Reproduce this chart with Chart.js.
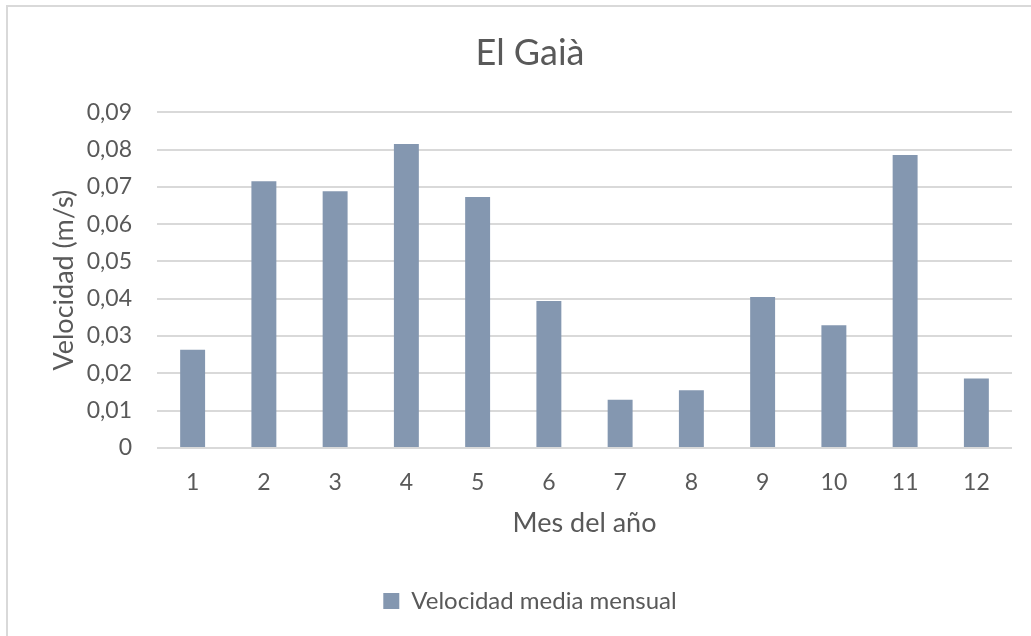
<!DOCTYPE html>
<html>
<head>
<meta charset="utf-8">
<script src="https://cdn.jsdelivr.net/npm/chart.js@4.4.0/dist/chart.umd.min.js"></script>
<style>
  html, body { margin: 0; padding: 0; background: #fff; overflow: hidden; }
  .frame {
    position: absolute; left: 6px; top: 5px; width: 2000px; height: 2000px;
    border-left: 2px solid #d9d9d9; border-top: 2px solid #d9d9d9;
  }
  .wrap { position: absolute; left: 0; top: 0; width: 1031px; height: 636px; }
</style>
</head>
<body>
<div class="frame"></div>
<div class="wrap"><canvas id="velChart"></canvas></div>
<script>
const months = ['1', '2', '3', '4', '5', '6', '7', '8', '9', '10', '11', '12'];
const velocidad = [0.0263, 0.0715, 0.0688, 0.0815, 0.0673, 0.0394, 0.0129, 0.0155, 0.0405, 0.0329, 0.0785, 0.0186];
const yTickLabels = ['0', '0,01', '0,02', '0,03', '0,04', '0,05', '0,06', '0,07', '0,08', '0,09'];

const textGrey = '#595959';
const fontFamily = "Lato, 'Open Sans', sans-serif";

document.addEventListener("DOMContentLoaded", function() {
    const ctx = document.getElementById('velChart');
    new Chart(ctx, {
        type: 'bar',
        data: {
            labels: months,
            datasets: [{
                label: 'Velocidad media mensual',
                data: velocidad,
                backgroundColor: '#8497b0',
                borderWidth: 0,
                categoryPercentage: 1,
                barPercentage: 0.35
            }]
        },
        options: {
            responsive: true,
            maintainAspectRatio: false,
            animation: false,
            layout: {
                padding: { left: 48, right: 19, top: 0, bottom: 13 }
            },
            scales: {
                y: {
                    min: 0,
                    max: 0.09,
                    afterFit: function(scale) { scale.width = 109; },
                    ticks: {
                        stepSize: 0.01,
                        padding: 25,
                        color: textGrey,
                        font: { family: fontFamily, size: 23 },
                        callback: function(value, index) { return yTickLabels[index]; }
                    },
                    grid: {
                        color: '#d9d9d9',
                        lineWidth: 2,
                        drawTicks: false
                    },
                    border: { display: false },
                    title: {
                        display: true,
                        text: 'Velocidad (m/s)',
                        color: textGrey,
                        padding: 0,
                        font: { family: fontFamily, size: 27 }
                    }
                },
                x: {
                    afterFit: function(scale) { scale.height = 131; },
                    ticks: {
                        padding: 21,
                        color: textGrey,
                        font: { family: fontFamily, size: 23 }
                    },
                    grid: { display: false, drawTicks: false },
                    border: { display: false },
                    title: {
                        display: true,
                        text: 'Mes del año',
                        color: textGrey,
                        padding: { top: 0, bottom: 40 },
                        font: { family: fontFamily, size: 27 }
                    }
                }
            },
            plugins: {
                title: {
                    display: true,
                    text: 'El Gaià',
                    color: textGrey,
                    padding: { top: 32, bottom: 37 },
                    font: { family: fontFamily, size: 36, weight: 'normal' }
                },
                legend: {
                    position: 'bottom',
                    labels: {
                        boxWidth: 16,
                        boxHeight: 16,
                        color: textGrey,
                        font: { family: fontFamily, size: 24 }
                    }
                },
                tooltip: { enabled: false }
            }
        }
    });
});
</script>
</body>
</html>
